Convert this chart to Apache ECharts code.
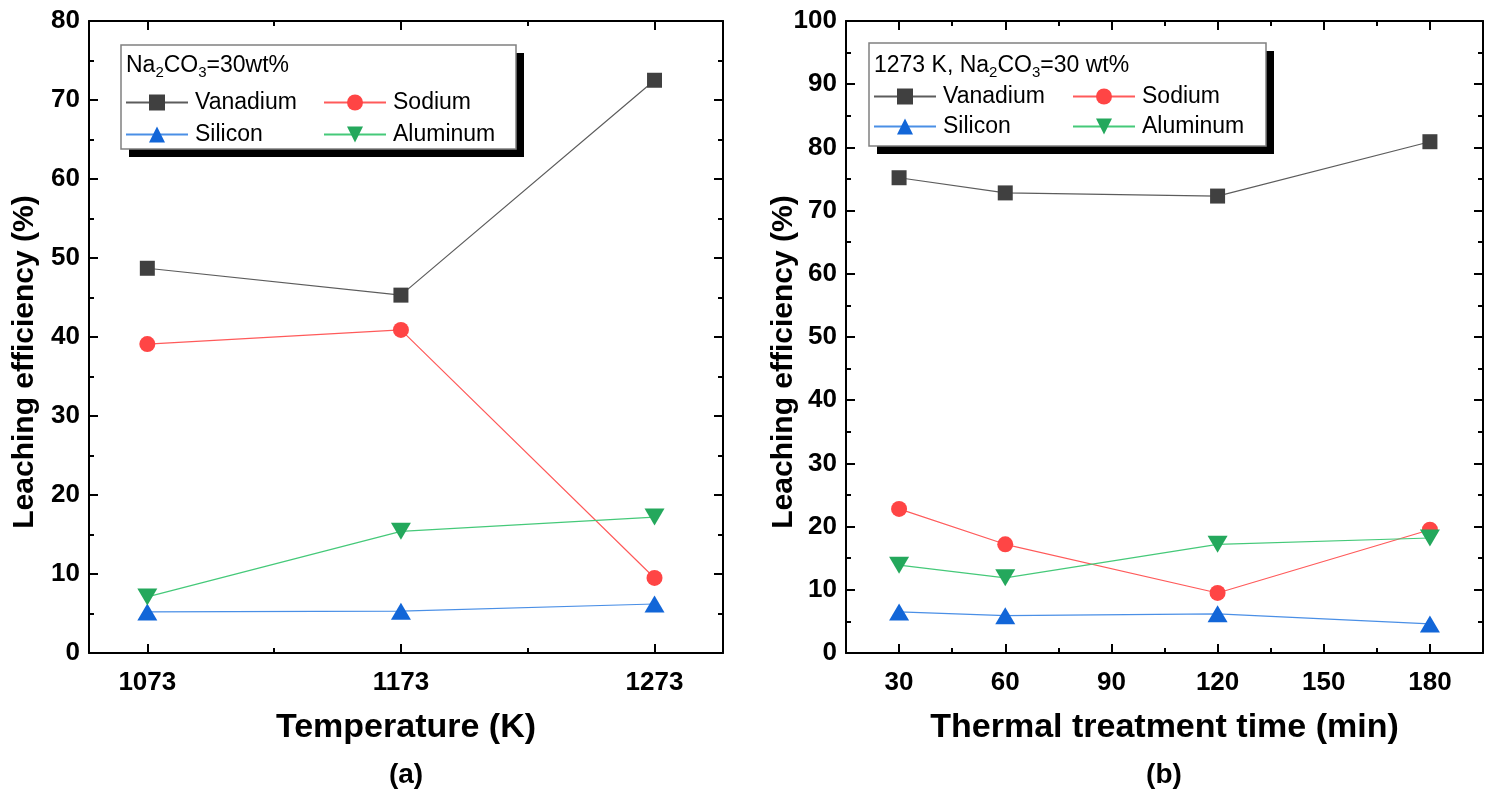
<!DOCTYPE html>
<html>
<head>
<meta charset="utf-8">
<script src="https://cdn.jsdelivr.net/npm/echarts@6/dist/echarts.min.js"></script>
<style>html,body{margin:0;padding:0;background:#fff}#c{width:1494px;height:802px}</style>
</head>
<body>
<div id="c"></div>
<script>
// ---- data (a) ----
const tempX = [1073, 1173, 1273];
const vanadiumA = [48.7, 45.3, 72.5];
const sodiumA = [39.1, 40.9, 9.5];
const siliconA = [5.2, 5.3, 6.2];
const aluminumA = [7.1, 15.4, 17.2];
// ---- data (b) ----
const timeX = [30, 60, 120, 180];
const vanadiumB = [75.2, 72.8, 72.3, 80.9];
const sodiumB = [22.8, 17.2, 9.5, 19.5];
const siliconB = [6.5, 5.9, 6.2, 4.6];
const aluminumB = [13.9, 11.9, 17.2, 18.2];
// ---- tick labels ----
const tempMajor = [1073, 1173, 1273];
const tempMinor = [1123, 1223];
const timeMajor = [30, 60, 90, 120, 150, 180];
const timeMinor = [45, 75, 105, 135, 165];
const seriesNames = ['Vanadium', 'Sodium', 'Silicon', 'Aluminum'];

const FONT = '"Liberation Sans", Arial, sans-serif';
const styles = {
  Vanadium: {symbol: 'rect', size: 15, fill: '#404040', line: '#5c5c5c'},
  Sodium: {symbol: 'circle', size: 16, fill: '#ff4545', line: '#ff5a5a'},
  Silicon: {symbol: 'triangle', size: [20, 17], fill: '#1266d8', line: '#4a8fe6'},
  Aluminum: {symbol: 'path://M0,0 L10,0 L5,9 Z', size: [20, 17], fill: '#24a85c', line: '#45c979'}
};

function pairs(xs, ys) { return xs.map((x, i) => [x, ys[i]]); }

const chart = echarts.init(document.getElementById('c'));

const grids = [
  {left: 89, top: 21, width: 634, height: 632},
  {left: 846, top: 21, width: 637, height: 632}
];

function xAxesFor(gi, min, max, major, minor, name) {
  const base = {
    gridIndex: gi, type: 'value', min: min, max: max,
    splitLine: {show: false}
  };
  return [
    Object.assign({}, base, {
      position: 'bottom',
      axisLine: {show: true, onZero: false, lineStyle: {color: '#000', width: 2}},
      axisTick: {show: true, inside: true, length: 9, lineStyle: {color: '#000', width: 2}, customValues: major},
      axisLabel: {show: true, customValues: major, formatter: v => String(v), color: '#000', fontFamily: FONT, fontWeight: 'bold', fontSize: 26, margin: 17},
      name: name, nameLocation: 'middle', nameGap: 58,
      nameTextStyle: {color: '#000', fontFamily: FONT, fontWeight: 'bold', fontSize: 34}
    }),
    Object.assign({}, base, {
      position: 'bottom',
      axisLine: {show: false, onZero: false},
      axisTick: {show: true, inside: true, length: 5, lineStyle: {color: '#000', width: 2}, customValues: minor},
      axisLabel: {show: false}
    }),
    Object.assign({}, base, {
      position: 'top',
      axisLine: {show: true, onZero: false, lineStyle: {color: '#000', width: 2}},
      axisTick: {show: true, inside: true, length: 9, lineStyle: {color: '#000', width: 2}, customValues: major},
      axisLabel: {show: false}
    }),
    Object.assign({}, base, {
      position: 'top',
      axisLine: {show: false, onZero: false},
      axisTick: {show: true, inside: true, length: 5, lineStyle: {color: '#000', width: 2}, customValues: minor},
      axisLabel: {show: false}
    })
  ];
}

function yAxesFor(gi, max) {
  const base = {
    gridIndex: gi, type: 'value', min: 0, max: max, interval: 10,
    splitLine: {show: false},
    minorTick: {show: true, splitNumber: 2, length: 5, lineStyle: {color: '#000', width: 2}}
  };
  return [
    Object.assign({}, base, {
      position: 'left',
      axisLine: {show: true, onZero: false, lineStyle: {color: '#000', width: 2}},
      axisTick: {show: true, inside: true, length: 9, lineStyle: {color: '#000', width: 2}},
      axisLabel: {color: '#000', fontFamily: FONT, fontWeight: 'bold', fontSize: 26, margin: 9}
    }),
    Object.assign({}, base, {
      position: 'right',
      axisLine: {show: true, onZero: false, lineStyle: {color: '#000', width: 2}},
      axisTick: {show: true, inside: true, length: 9, lineStyle: {color: '#000', width: 2}},
      axisLabel: {show: false}
    })
  ];
}

const xAxis = [].concat(
  xAxesFor(0, 1050, 1300, tempMajor, tempMinor, 'Temperature (K)'),
  xAxesFor(1, 15, 195, timeMajor, timeMinor, 'Thermal treatment time (min)')
);
const yAxis = [].concat(yAxesFor(0, 80), yAxesFor(1, 100));

function mkSeries(name, xi, yi, data) {
  const s = styles[name];
  return {
    name: name, type: 'line', xAxisIndex: xi, yAxisIndex: yi,
    data: data, symbol: s.symbol, symbolSize: s.size, showSymbol: true,
    lineStyle: {color: s.line, width: 1.2},
    itemStyle: {color: s.fill, borderWidth: 0},
    z: 3, animation: false
  };
}

const series = [
  mkSeries('Vanadium', 0, 0, pairs(tempX, vanadiumA)),
  mkSeries('Sodium', 0, 0, pairs(tempX, sodiumA)),
  mkSeries('Silicon', 0, 0, pairs(tempX, siliconA)),
  mkSeries('Aluminum', 0, 0, pairs(tempX, aluminumA)),
  mkSeries('Vanadium', 4, 2, pairs(timeX, vanadiumB)),
  mkSeries('Sodium', 4, 2, pairs(timeX, sodiumB)),
  mkSeries('Silicon', 4, 2, pairs(timeX, siliconB)),
  mkSeries('Aluminum', 4, 2, pairs(timeX, aluminumB))
];

// legend boxes
const boxes = [
  {x: 121, y: 45, w: 395, h: 104, title: 'Na{sub|2}CO{sub|3}=30wt%', col1: 125, col2: 323, row1: 101, row2: 133, ty: 66},
  {x: 869, y: 43, w: 397, h: 103, title: '1273 K, Na{sub|2}CO{sub|3}=30 wt%', col1: 873, col2: 1072, row1: 95, row2: 125, ty: 66}
];

const legend = [];
const graphic = [];
boxes.forEach(b => {
  graphic.push({type: 'rect', shape: {x: b.x + 8, y: b.y + 8, width: b.w, height: b.h}, style: {fill: '#000'}, z: 1});
  graphic.push({type: 'rect', shape: {x: b.x, y: b.y, width: b.w, height: b.h}, style: {fill: '#fff', stroke: '#808080', lineWidth: 1.5}, z: 2});
  graphic.push({
    type: 'text', x: b.x + 5, y: b.ty, z: 3,
    style: {
      text: b.title, fill: '#000', font: '23px ' + FONT, verticalAlign: 'middle',
      rich: {sub: {fontSize: 15, fontFamily: FONT, fill: '#000', padding: [14, 0, 0, 0]}}
    }
  });
  const cells = [
    ['Vanadium', b.col1, b.row1], ['Sodium', b.col2, b.row1],
    ['Silicon', b.col1, b.row2], ['Aluminum', b.col2, b.row2]
  ];
  cells.forEach(c => {
    legend.push({
      data: [c[0]], left: c[1], top: c[2] - 10, itemWidth: 62, itemHeight: 20,
      selectedMode: false, padding: 0, z: 10,
      textStyle: {color: '#000', fontFamily: FONT, fontSize: 23, padding: [0, 0, 0, 2]}
    });
  });
});

// y-axis titles
[[25, 362], [784, 362]].forEach(p => {
  graphic.push({type: 'text', x: p[0], y: p[1], rotation: Math.PI / 2, z: 3,
    style: {text: 'Leaching efficiency (%)', fill: '#000', font: 'bold 30px ' + FONT, align: 'center', verticalAlign: 'middle'}});
});

// panel labels
graphic.push({type: 'text', x: 406, y: 775, z: 3, style: {text: '(a)', fill: '#000', font: 'bold 28px ' + FONT, align: 'center', verticalAlign: 'middle'}});
graphic.push({type: 'text', x: 1164, y: 775, z: 3, style: {text: '(b)', fill: '#000', font: 'bold 28px ' + FONT, align: 'center', verticalAlign: 'middle'}});

chart.setOption({
  animation: false,
  backgroundColor: '#fff',
  grid: grids,
  xAxis: xAxis,
  yAxis: yAxis,
  legend: legend,
  graphic: graphic,
  series: series
});
</script>
</body>
</html>
